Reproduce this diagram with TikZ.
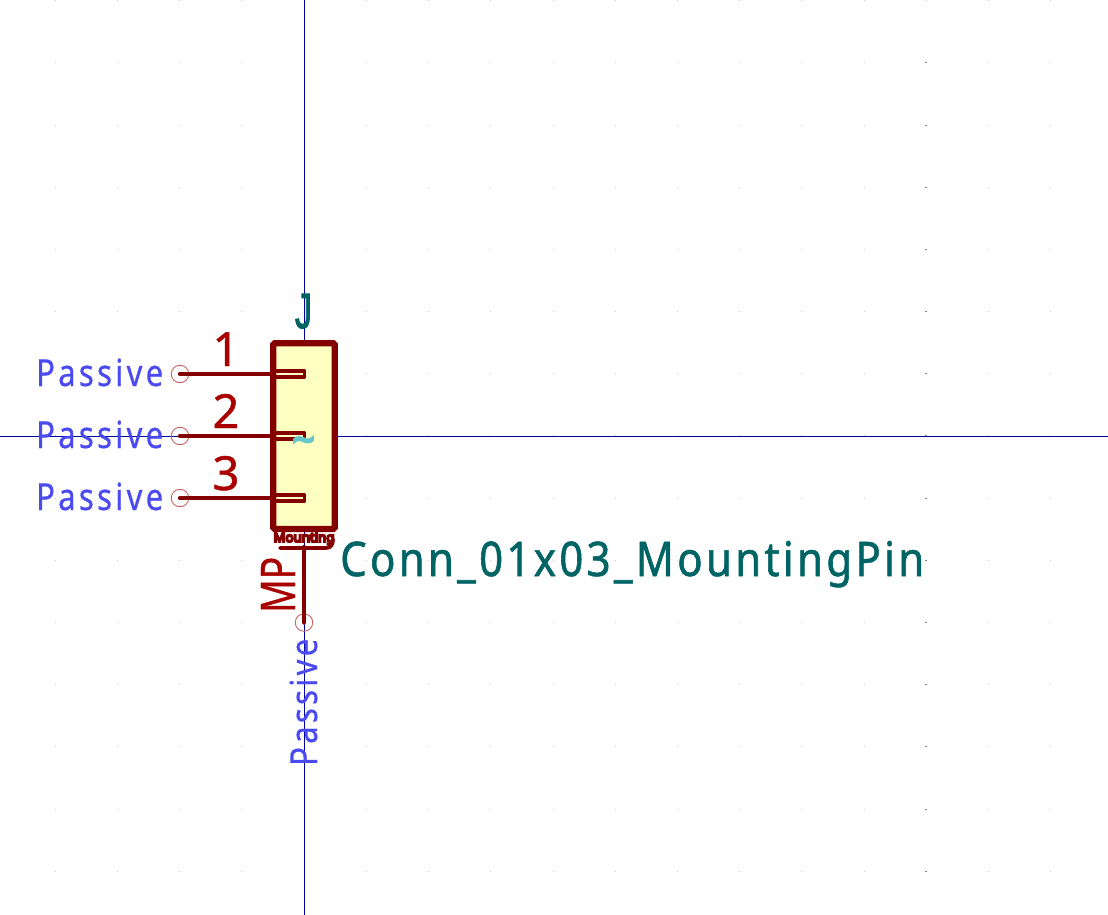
\documentclass[tikz,border=0pt]{standalone}
\usepackage{fontspec}
\setmainfont{Noto Sans}
\newfontfamily\typefont[FakeStretch=0.83,LetterSpace=9,FakeBold=0.6]{Noto Sans}
\newfontfamily\valfont[FakeStretch=0.88,LetterSpace=7,FakeBold=1.2]{Noto Sans}
\newfontfamily\mpfont[FakeBold=1]{Noto Sans}
\newfontfamily\mntfont[FakeBold=14]{Noto Sans}
\newfontfamily\tildefont[FakeBold=5]{Noto Sans}
\newfontfamily\reffont[FakeBold=2.5]{Liberation Sans}
\definecolor{kred}{HTML}{840000}
\definecolor{kpin}{HTML}{A90000}
\definecolor{kteal}{HTML}{006464}
\definecolor{kblue}{HTML}{4A4AF0}
\definecolor{kaxis}{HTML}{0000A0}
\definecolor{kfill}{HTML}{FFFFC2}
\definecolor{kcirc}{HTML}{C86464}
\definecolor{kdot}{HTML}{C8C8C8}
\definecolor{ktilde}{HTML}{64C8C8}
\tikzset{
 x=1pt,y=-1pt,
 axisline/.style={draw=kaxis,line width=1pt},
 griddot/.style={fill=kdot,draw=none},
 griddark/.style={fill=black!50,draw=none},
 bodybox/.style={draw=kred,fill=kfill,line width=6.2pt,rounded corners=1.5pt},
 pinwire/.style={draw=kred,line width=4.2pt,line cap=round},
 pinslot/.style={draw=kred,line width=3.4pt,line cap=round,line join=round},
 pincirc/.style={circle,draw=kcirc,line width=.9pt,minimum size=17.5pt,inner sep=0pt},
 typelabel/.style={text=kblue,inner sep=0pt,font=\typefont\fontsize{36}{36}\selectfont},
 numlabel/.style={text=kpin,inner sep=0pt,font=\mpfont\fontsize{47}{47}\selectfont},
 valuelabel/.style={text=kteal,inner sep=0pt,font=\valfont\fontsize{47}{47}\selectfont}
}
\begin{document}
\begin{tikzpicture}
\useasboundingbox (0,0) rectangle (1108,915);
\foreach \i in {0,...,16}{
 \foreach \j in {0,...,14}{
  \pgfmathsetmacro{\dx}{floor(55.3+62.22*\i)}
  \pgfmathsetmacro{\dy}{floor(0.6+62.2*\j)}
  \fill[griddot] (\dx,\dy) rectangle +(1,1);
 }
}
\foreach \j in {1,...,14}{
 \pgfmathsetmacro{\dy}{floor(0.6+62.2*\j)}
 \fill[griddark] (925,\dy) rectangle +(2,1);
}
\coordinate (axT) at (304.5,0); \coordinate (axB) at (304.5,915);
\coordinate (axL) at (0,436.5); \coordinate (axR) at (1108,436.5);
\draw[axisline] (axT) -- (axB);
\draw[axisline] (axL) -- (axR);
\node[pincirc] (p1) at (180,374) {};
\node[pincirc] (p2) at (180,436) {};
\node[pincirc] (p3) at (180,498) {};
\node[pincirc] (p4) at (304,622.5) {};
\path[bodybox] (273.3,343.2) rectangle (334.7,529);
\coordinate (b1) at (273,374);
\coordinate (b2) at (273,436);
\coordinate (b3) at (273,498);
\coordinate (b4) at (304,547);
\draw[pinwire] (p1.center) -- (b1);
\draw[pinwire] (p2.center) -- (b2);
\draw[pinwire] (p3.center) -- (b3);
\draw[pinwire] (p4.center) -- (b4);
\draw[pinslot] (276,371) -- (304.5,371) -- (304.5,377) -- (276,377);
\draw[pinslot] (276,433) -- (304.5,433) -- (304.5,439) -- (276,439);
\draw[pinslot] (276,495) -- (304.5,495) -- (304.5,501) -- (276,501);
\draw[pinwire,line width=3.6pt] (280,548) -- (326,548) .. controls (331,548) and (333,545) .. (333,539);
\node[text=kred,inner sep=0pt,anchor=base] (mt) at (304,542) {\resizebox{61pt}{!}{\mntfont\fontsize{15}{15}\selectfont Mounting}};
\node[inner sep=0pt] (tilde) at (303.5,445.5) {\textcolor{ktilde}{\tildefont\fontsize{40}{40}\selectfont\char"7E}};
\node[anchor=base,text=kteal,inner sep=0pt] (ref) at (303.5,328) {\resizebox{17pt}{34pt}{\reffont J}};
\node[anchor=base,numlabel] (n1) at (226,366) {1};
\node[anchor=base,numlabel] (n2) at (226,428) {2};
\node[anchor=base,numlabel] (n3) at (226,490) {3};
\node[anchor=base west,typelabel] (t1) at (36,386) {\resizebox{127pt}{!}{Passive}};
\node[anchor=base west,typelabel] (t2) at (36,448) {\resizebox{127pt}{!}{Passive}};
\node[anchor=base west,typelabel] (t3) at (36,510) {\resizebox{127pt}{!}{Passive}};
\node[anchor=base west,rotate=90,typelabel] (t4) at (317,766) {\resizebox{127pt}{!}{Passive}};
\node[anchor=base west,rotate=90,text=kpin,inner sep=0pt] (mp) at (295,613) {\resizebox{56pt}{34pt}{\mpfont MP}};
\node[anchor=base west,valuelabel] (val) at (340,576) {\resizebox{584pt}{!}{Conn\_01x03\_MountingPin}};
\end{tikzpicture}
\end{document}
